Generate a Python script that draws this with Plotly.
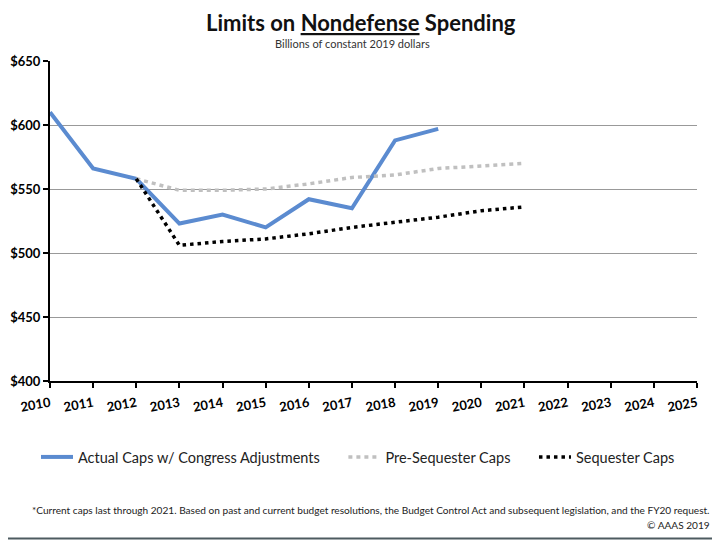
import plotly.graph_objects as go

years = list(range(2010, 2026))
actual_years = list(range(2010, 2020))
actual_caps = [610, 566, 558, 523, 530, 520, 542, 535, 588, 597]
caps_years = list(range(2012, 2022))
pre_sequester = [558, 549, 549, 550, 554, 559, 561, 566, 568, 570]
sequester = [558, 506, 509, 511, 515, 520, 524, 528, 533, 536]
y_ticks = [400, 450, 500, 550, 600, 650]
y_labels = ["$" + str(v) for v in y_ticks]

FONT = "Lato"
NB = "\u00a0"


def px(X):
    return (X - 50) / 647


def py(Y):
    return (381 - Y) / 320


fig = go.Figure()
fig.add_trace(go.Scatter(x=actual_years, y=actual_caps, mode="lines",
                         name="Actual Caps w/ Congress Adjustments" + NB * 5,
                         line=dict(color="#5B8BD0", width=4)))
fig.add_trace(go.Scatter(x=caps_years, y=pre_sequester, mode="lines",
                         name="Pre-Sequester Caps" + NB * 5,
                         line=dict(color="#C0C0C0", width=3.5, dash="4px,4px")))
fig.add_trace(go.Scatter(x=caps_years, y=sequester, mode="lines",
                         name="Sequester Caps",
                         line=dict(color="#000000", width=3.5, dash="3.5px,4px")))

# page body has an 8px margin, so the figure is 8px smaller than the window
fig.update_layout(
    width=712, height=532,
    margin=dict(l=42, r=23, t=53, b=159, autoexpand=False),
    paper_bgcolor="white", plot_bgcolor="white",
    font=dict(family=FONT, color="black"),
    showlegend=True,
    legend=dict(orientation="h", x=px(358), xanchor="center", y=py(457),
                yanchor="middle",
                font=dict(size=14.5, family=FONT, color="#222"),
                itemwidth=32, tracegroupgap=0),
    xaxis=dict(range=[2010, 2025], tickmode="array", tickvals=years,
               ticktext=[str(y) for y in years], tickangle=-10,
               tickfont=dict(size=13, family=FONT, weight="bold"),
               ticklabelstandoff=3,
               showgrid=False, showline=True, linecolor="black", linewidth=2,
               ticks="outside", ticklen=5, tickwidth=1.5, tickcolor="black",
               zeroline=False, fixedrange=True, automargin=False),
    yaxis=dict(range=[400, 650], tickmode="array", tickvals=y_ticks, ticktext=y_labels,
               tickfont=dict(size=13, family=FONT, weight="bold"),
               showgrid=True, gridcolor="#999999", gridwidth=1.3,
               showline=True, linecolor="black", linewidth=2,
               ticks="outside", ticklen=5, tickwidth=1.5, tickcolor="black",
               zeroline=False, fixedrange=True, automargin=False),
)

fig.add_annotation(text="<b>Limits on <u>Nondefense</u> Spending</b>",
                   xref="paper", yref="paper", x=px(361), y=py(22),
                   xanchor="center", yanchor="middle", showarrow=False,
                   font=dict(size=22, family=FONT, color="#111"))
fig.add_annotation(text="Billions of constant 2019 dollars",
                   xref="paper", yref="paper", x=px(352), y=py(44),
                   xanchor="center", yanchor="middle", showarrow=False,
                   font=dict(size=11, family=FONT, color="#333"))
fig.add_annotation(text="*Current caps last through 2021. Based on past and current budget resolutions, the Budget Control Act and subsequent legislation, and the FY20 request.",
                   xref="paper", yref="paper", x=1, xshift=15, y=py(510),
                   xanchor="right", yanchor="middle", showarrow=False,
                   font=dict(size=10.1, family=FONT, color="#222"))
fig.add_annotation(text="© AAAS 2019",
                   xref="paper", yref="paper", x=1, xshift=15, y=py(525),
                   xanchor="right", yanchor="middle", showarrow=False,
                   font=dict(size=10.1, family=FONT, color="#222"))

# slide frame edges visible in the picture
fig.add_shape(type="line", xref="paper", yref="paper", x0=px(8), x1=px(718),
              y0=py(538.5), y1=py(538.5), line=dict(color="#4d5b60", width=2))
fig.add_shape(type="line", xref="paper", yref="paper", x0=px(717), x1=px(717),
              y0=py(508), y1=py(539), line=dict(color="#333333", width=1))
fig.add_shape(type="line", xref="paper", yref="paper", x0=px(719), x1=px(719),
              y0=py(28), y1=py(118), line=dict(color="#dddddd", width=1))

fig.write_html("out.html")
